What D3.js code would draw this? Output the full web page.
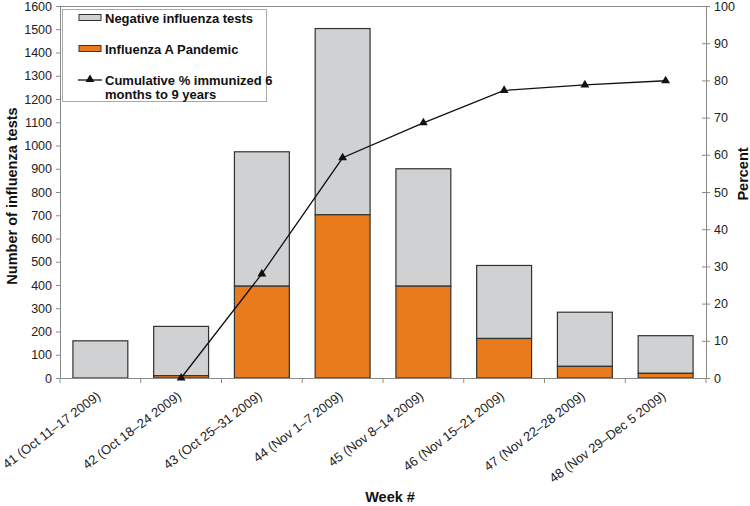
<!DOCTYPE html>
<html><head><meta charset="utf-8">
<script src="https://cdn.jsdelivr.net/npm/d3@7"></script>
<style>body{margin:0;background:#fff}svg{display:block;font-family:"Liberation Sans",Arial,sans-serif}</style>
</head><body><svg id="c" width="750" height="506"></svg>
<script>
const categories = ["41 (Oct 11\u201317 2009)","42 (Oct 18\u201324 2009)","43 (Oct 25\u201331 2009)","44 (Nov 1\u20137 2009)","45 (Nov 8\u201314 2009)","46 (Nov 15\u201321 2009)","47 (Nov 22\u201328 2009)","48 (Nov 29\u2013Dec 5 2009)"];
const totalTests = [160, 222, 973, 1503, 900, 484, 283, 182];
const pandemicA = [0, 10, 395, 702, 395, 170, 50, 20];
const cumulativePct = [null, 0, 28, 59.2, 68.6, 77.3, 78.8, 79.9];
const leftTicks = [0,100,200,300,400,500,600,700,800,900,1000,1100,1200,1300,1400,1500,1600];
const rightTicks = [0,10,20,30,40,50,60,70,80,90,100];

const svg = d3.select("#c");
const L = 60, R = 706, T = 6, B = 378;
const x = d3.scaleBand().domain(categories).range([L, R]).paddingInner(0.32).paddingOuter(0.16);
const xb = d3.scaleBand().domain(categories).range([L, R]);
const y = d3.scaleLinear().domain([0, 1600]).range([B, T]);
const y2 = d3.scaleLinear().domain([0, 100]).range([B, T]);
const axisCol = "#8a8a8a", txtCol = "#222";

// top border
svg.append("line").attr("x1", L).attr("x2", R).attr("y1", T + 0.5).attr("y2", T + 0.5).attr("stroke", axisCol);

// bars
const data = categories.map((c, i) => ({c, tot: totalTests[i], pa: pandemicA[i]}));
svg.selectAll("rect.neg").data(data).enter().append("rect")
  .attr("x", d => x(d.c)).attr("width", x.bandwidth())
  .attr("y", d => y(d.tot)).attr("height", d => y(d.pa) - y(d.tot))
  .attr("fill", "#d0d1d3").attr("stroke", "#333").attr("stroke-width", 1.2);
svg.selectAll("rect.pa").data(data.filter(d => d.pa > 0)).enter().append("rect")
  .attr("x", d => x(d.c)).attr("width", x.bandwidth())
  .attr("y", d => y(d.pa)).attr("height", d => y(0) - y(d.pa))
  .attr("fill", "#e97b1c").attr("stroke", "#333").attr("stroke-width", 1.2);

// left axis
const gl = svg.append("g").attr("transform", `translate(${L},0)`)
  .call(d3.axisLeft(y).tickValues(leftTicks).tickSize(4).tickPadding(4).tickFormat(d3.format("d")));
gl.select(".domain").attr("stroke", axisCol);
gl.selectAll(".tick line").attr("stroke", axisCol);
gl.selectAll("text").attr("fill", txtCol).style("font-size", "12.5px").style("font-family", "Liberation Sans, Arial, sans-serif");

// right axis
const gr = svg.append("g").attr("transform", `translate(${R},0)`)
  .call(d3.axisRight(y2).tickValues(rightTicks).tickSize(4).tickPadding(4));
gr.select(".domain").attr("stroke", axisCol);
gr.selectAll(".tick line").attr("stroke", axisCol).attr("x1", -4);
gr.selectAll("text").attr("fill", txtCol).style("font-size", "12.5px").style("font-family", "Liberation Sans, Arial, sans-serif");

// bottom axis
const gb = svg.append("g").attr("transform", `translate(0,${B})`)
  .call(d3.axisBottom(xb).tickSize(0).tickPadding(0));
gb.select(".domain").attr("stroke", axisCol);
gb.selectAll(".tick text").remove();
// separator ticks
svg.selectAll("line.sep").data(d3.range(categories.length + 1)).enter().append("line")
  .attr("x1", i => L + i * xb.step()).attr("x2", i => L + i * xb.step())
  .attr("y1", B).attr("y2", B + 5).attr("stroke", axisCol);
// rotated labels
svg.selectAll("text.xl").data(categories).enter().append("text")
  .attr("transform", d => `translate(${xb(d) + xb.bandwidth()/2 + 1},${B + 20}) rotate(-37)`)
  .attr("text-anchor", "end").attr("fill", txtCol)
  .style("font-size", "13px").text(d => d);

// line
const pts = categories.map((c, i) => ({c, v: cumulativePct[i]})).filter(d => d.v !== null);
const line = d3.line().x(d => xb(d.c) + xb.bandwidth()/2).y(d => y2(d.v));
svg.append("path").datum(pts).attr("d", line).attr("fill", "none").attr("stroke", "#111").attr("stroke-width", 1.3);
const tri = d3.symbol().type(d3.symbolTriangle).size(34);
svg.selectAll("path.m").data(pts).enter().append("path")
  .attr("transform", d => `translate(${xb(d.c) + xb.bandwidth()/2},${y2(d.v)})`)
  .attr("d", tri).attr("fill", "#111");

// axis titles
svg.append("text").attr("transform", `translate(17,${(T + B)/2 + 4}) rotate(-90)`)
  .attr("text-anchor", "middle").style("font-size", "14.5px").style("font-weight", "bold").attr("fill", "#111")
  .text("Number of influenza tests");
svg.append("text").attr("transform", `translate(748,174) rotate(-90)`)
  .attr("text-anchor", "middle").style("font-size", "14.5px").style("font-weight", "bold").attr("fill", "#111")
  .text("Percent");
svg.append("text").attr("x", 390).attr("y", 502).attr("text-anchor", "middle")
  .style("font-size", "14.5px").style("font-weight", "bold").attr("fill", "#111").text("Week #");

// legend
const lg = svg.append("g");
lg.append("rect").attr("x", 62.5).attr("y", 9.5).attr("width", 204).attr("height", 92)
  .attr("fill", "#fff").attr("stroke", "#aaa");
lg.append("rect").attr("x", 79).attr("y", 14.5).attr("width", 22).attr("height", 6).attr("fill", "#d0d1d3").attr("stroke", "#333");
lg.append("rect").attr("x", 79).attr("y", 45.5).attr("width", 22).attr("height", 6).attr("fill", "#e97b1c").attr("stroke", "#333");
lg.append("line").attr("x1", 78).attr("x2", 102).attr("y1", 80).attr("y2", 80).attr("stroke", "#111").attr("stroke-width", 1.3);
lg.append("path").attr("transform", "translate(90,79.5)").attr("d", tri).attr("fill", "#111");
const lt = [["Negative influenza tests", 23], ["Influenza A Pandemic", 54], ["Cumulative % immunized 6", 85], ["months to 9 years", 98.5]];
lg.selectAll("text").data(lt).enter().append("text").attr("x", 105).attr("y", d => d[1])
  .style("font-size", "13px").style("font-weight", "bold").attr("fill", "#111").text(d => d[0]);
</script></body></html>
